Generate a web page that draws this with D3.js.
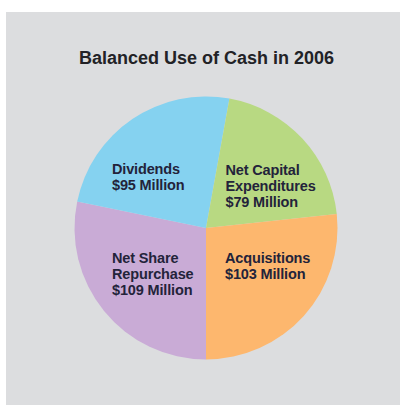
<!DOCTYPE html>
<html>
<head>
<meta charset="utf-8">
<script src="https://cdn.jsdelivr.net/npm/d3@7"></script>
<style>
  html, body { margin: 0; padding: 0; background: #ffffff; }
  svg { display: block; }
  text { font-family: "Liberation Sans", Arial, Helvetica, sans-serif; font-weight: bold; }
</style>
</head>
<body>
<svg id="chart" width="400" height="406"></svg>
<script>
// Uses of cash, in millions of dollars (clockwise from the bottom)
const categories = ["Net Share Repurchase", "Dividends", "Net Capital Expenditures", "Acquisitions"];
const values = [109, 95, 79, 103];
const labelLines = [
  ["Net Share", "Repurchase", "$109 Million"],
  ["Dividends", "$95 Million"],
  ["Net Capital", "Expenditures", "$79 Million"],
  ["Acquisitions", "$103 Million"]
];
const colors = ["#c9abd6", "#85d2f0", "#b8d982", "#fdb76e"];
const title = "Balanced Use of Cash in 2006";

const svg = d3.select("#chart");

// panel
svg.append("rect")
  .attr("x", 6).attr("y", 12)
  .attr("width", 394).attr("height", 393)
  .attr("fill", "#dcdddf");

svg.append("text")
  .attr("x", 206.5).attr("y", 64)
  .attr("text-anchor", "middle")
  .attr("font-size", 18)
  .attr("fill", "#222226")
  .text(title);

const cx = 206, cy = 228, r = 131.5;
const g = svg.append("g").attr("transform", `translate(${cx},${cy})`);

const pie = d3.pie().sort(null).startAngle(Math.PI).endAngle(3 * Math.PI);
const arcs = pie(values);
const arc = d3.arc().innerRadius(0).outerRadius(r);

g.selectAll("path.slice")
  .data(arcs)
  .join("path")
  .attr("class", "slice")
  .attr("d", arc)
  .attr("fill", (d, i) => colors[i]);

// label anchor positions (left edge, first baseline) relative to center
const labelPos = [[-94, 34.5], [-94, -54.5], [19.5, -53.5], [19, 34.5]];
const lineH = 16;

arcs.forEach((d, i) => {
  const t = g.append("text")
    .attr("x", labelPos[i][0]).attr("y", labelPos[i][1])
    .attr("font-size", 14.5)
    .attr("letter-spacing", -0.15)
    .attr("fill", "#23233a");
  labelLines[i].forEach((line, j) => {
    t.append("tspan")
      .attr("x", labelPos[i][0])
      .attr("y", labelPos[i][1] + j * lineH)
      .text(line);
  });
});
</script>
</body>
</html>
